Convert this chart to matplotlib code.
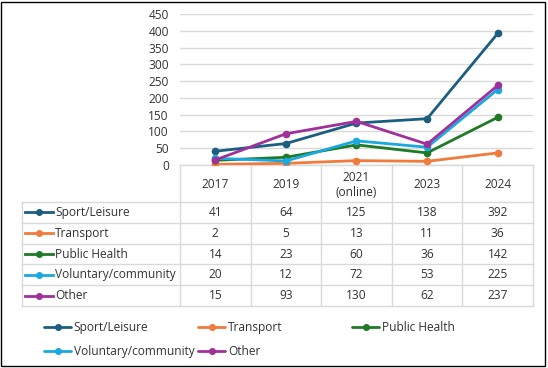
import numpy as np
import matplotlib.pyplot as plt
from matplotlib.patches import Rectangle

plt.rcParams['font.family'] = ['Open Sans', 'DejaVu Sans']

years = ['2017', '2019', '2021\n(online)', '2023', '2024']
series = ['Sport/Leisure', 'Transport', 'Public Health', 'Voluntary/community', 'Other']
sport = [41, 64, 125, 138, 392]
transport = [2, 5, 13, 11, 36]
health = [14, 23, 60, 36, 142]
voluntary = [20, 12, 72, 53, 225]
other = [15, 93, 130, 62, 237]
values = [sport, transport, health, voluntary, other]
colors = ['#1b5e80', '#f07b3c', '#1f7a27', '#1aa8df', '#a0309a']
yticks = np.arange(0, 451, 50)

W, H = 548, 368
TXT = '#333333'
GRID = '#d9d9d9'
FS = 8.6

fig = plt.figure(figsize=(W / 100, H / 100), dpi=100)

# pixel layout
ax_l, ax_r, ax_top, ax_bot = 180, 533, 14, 165
tab_l = 22
row_h = 20.8
hdr_bot = 202

ax = fig.add_axes([ax_l / W, 1 - ax_bot / H, (ax_r - ax_l) / W, (ax_bot - ax_top) / H])
x = np.arange(len(years))
handles = []
for name, vals, c in zip(series, values, colors):
    h, = ax.plot(x, vals, color=c, lw=2, marker='o', ms=4.5, label=name,
                 solid_capstyle='round')
    handles.append(h)
ax.set_xlim(-0.5, len(years) - 0.5)
ax.set_ylim(0, 450)
ax.set_yticks(yticks)
ax.set_xticks([])
ax.tick_params(axis='y', length=0, pad=8, labelsize=FS, labelcolor=TXT)
ax.grid(axis='y', color=GRID, lw=1)
ax.set_axisbelow(True)
for s in ax.spines.values():
    s.set_visible(False)
ax.patch.set_alpha(0)

# data table drawn in pixel coords
tab = fig.add_axes([0, 0, 1, 1], zorder=-1)
tab.set_xlim(0, W)
tab.set_ylim(H, 0)
tab.axis('off')

col_w = (ax_r - ax_l) / len(years)
col_x = [ax_l + i * col_w for i in range(len(years) + 1)]
row_y = [hdr_bot + i * row_h for i in range(len(series) + 1)]

tab.plot([ax_l, ax_r], [ax_bot, ax_bot], color=GRID, lw=1)
for cx in col_x:
    tab.plot([cx, cx], [ax_bot, row_y[-1]], color=GRID, lw=1)
tab.plot([tab_l, tab_l], [row_y[0], row_y[-1]], color=GRID, lw=1)
for ry in row_y:
    tab.plot([tab_l, ax_r], [ry, ry], color=GRID, lw=1)

for i, yr in enumerate(years):
    tab.text((col_x[i] + col_x[i + 1]) / 2, (ax_bot + hdr_bot) / 2 + 1.5, yr,
             ha='center', va='center', fontsize=FS, color=TXT, linespacing=1.2)

for j, (name, vals, c) in enumerate(zip(series, values, colors)):
    cy = (row_y[j] + row_y[j + 1]) / 2
    tab.plot([25, 53], [cy, cy], color=c, lw=2)
    tab.plot([39], [cy], color=c, marker='o', ms=4)
    tab.text(55, cy, name, ha='left', va='center', fontsize=FS, color=TXT)
    for i, v in enumerate(vals):
        tab.text((col_x[i] + col_x[i + 1]) / 2, cy, str(v),
                 ha='center', va='center', fontsize=FS, color=TXT)

# legend, three columns placed like the original
cols = [[0, 3], [1, 4], [2]]
lx = [44, 198, 352]
for idx, px in zip(cols, lx):
    fig.legend([handles[k] for k in idx], [series[k] for k in idx],
               loc='upper left', bbox_to_anchor=(px / W, 1 - 321 / H),
               frameon=False, fontsize=FS, handlelength=2.3,
               handletextpad=0.2, labelspacing=0.95, borderpad=0,
               borderaxespad=0, labelcolor=TXT, markerscale=0.9)

fig.add_artist(Rectangle((1 / W, 2 / H), 544 / W, 364 / H, transform=fig.transFigure,
                         fill=False, ec='black', lw=1))

fig.savefig('out.png', dpi=100)
